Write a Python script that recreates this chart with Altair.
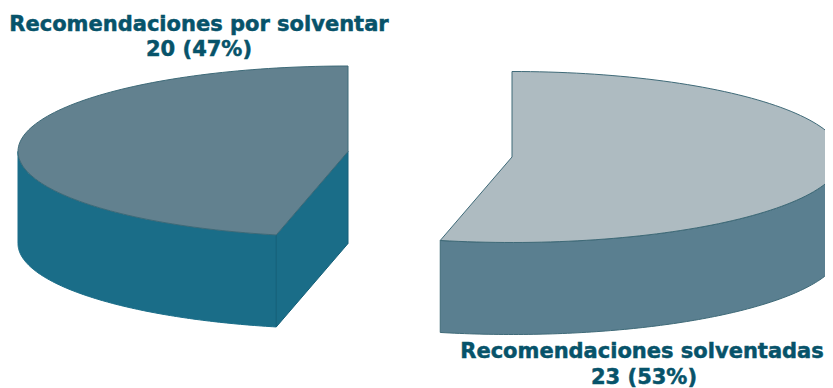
import math
import altair as alt

# Values
categories = ["Recomendaciones por solventar", "Recomendaciones solventadas"]
values = [20, 23]
percent_labels = ["20 (47%)", "23 (53%)"]

# Layout (chart coordinates = page coordinates minus the 8px margin)
M = 8
RX, RY, DEPTH = 330, 85.5, 92
LEFT_C = (348 - M, 151.5 - M)
RIGHT_C = (512 - M, 157 - M)

total = sum(values)
split = 90 + 360 * values[0] / total  # where both slices meet, measured from the positive x axis


def rim(c, a0, a1, dy=0.0, n=120):
    pts = []
    for i in range(n + 1):
        a = math.radians(a0 + (a1 - a0) * i / n)
        pts.append([c[0] + RX * math.cos(a), c[1] - RY * math.sin(a) + dy])
    return pts


def feature(part, ring):
    ring = ring + [ring[0]]
    return {"type": "Feature", "properties": {"part": part},
            "geometry": {"type": "Polygon", "coordinates": [ring]}}


def wall(c, a0, a1):
    return rim(c, a0, a1) + rim(c, a1, a0, DEPTH)


tip_l = rim(LEFT_C, split, split, n=1)[0]
features = [
    # left slice: outer wall, cut face, top
    feature("left_wall", wall(LEFT_C, 180, split)),
    feature("left_cut", [tip_l, list(LEFT_C), [LEFT_C[0], LEFT_C[1] + DEPTH], [tip_l[0], tip_l[1] + DEPTH]]),
    feature("left_top", [list(LEFT_C)] + rim(LEFT_C, 90, split)),
    # right slice: outer wall, top
    feature("right_wall", wall(RIGHT_C, split, 360)),
    feature("right_top", [list(RIGHT_C)] + rim(RIGHT_C, 90, split - 360)),
]

parts = ["left_wall", "left_cut", "left_top", "right_wall", "right_top"]
fills = ["#1a6d88", "#1a6d88", "#62818f", "#5a7f90", "#aebbc1"]
strokes = ["#1a6d88", "#145f78", "#3e6a78", "#3f6a78", "#3f6a78"]

pie = (
    alt.Chart(alt.Data(values=features))
    .mark_geoshape(strokeWidth=1)
    .encode(
        fill=alt.Color("properties.part:N", scale=alt.Scale(domain=parts, range=fills), legend=None),
        stroke=alt.Stroke("properties.part:N", scale=alt.Scale(domain=parts, range=strokes), legend=None),
    )
    .project(type="identity", scale=1, translate=[0, 0])
)


def label(text, x, y):
    return (
        alt.Chart(alt.Data(values=[{"t": text}]))
        .mark_text(font="DejaVu Sans", fontWeight="bold", fontSize=21, color="#07536a",
                   stroke="#07536a", strokeWidth=0.5, align="center", baseline="alphabetic")
        .encode(text="t:N", x=alt.value(x - M), y=alt.value(y - M))
    )


chart = alt.layer(
    pie,
    label(categories[0], 199, 31),
    label(percent_labels[0], 199, 56),
    label(categories[1], 642, 358),
    label(percent_labels[1], 644, 384),
).properties(width=817, height=380, padding=0, autosize=alt.AutoSizeParams(type="none")).configure_view(strokeWidth=0)

chart.save("out.html", embed_options={"renderer": "svg", "actions": False})
